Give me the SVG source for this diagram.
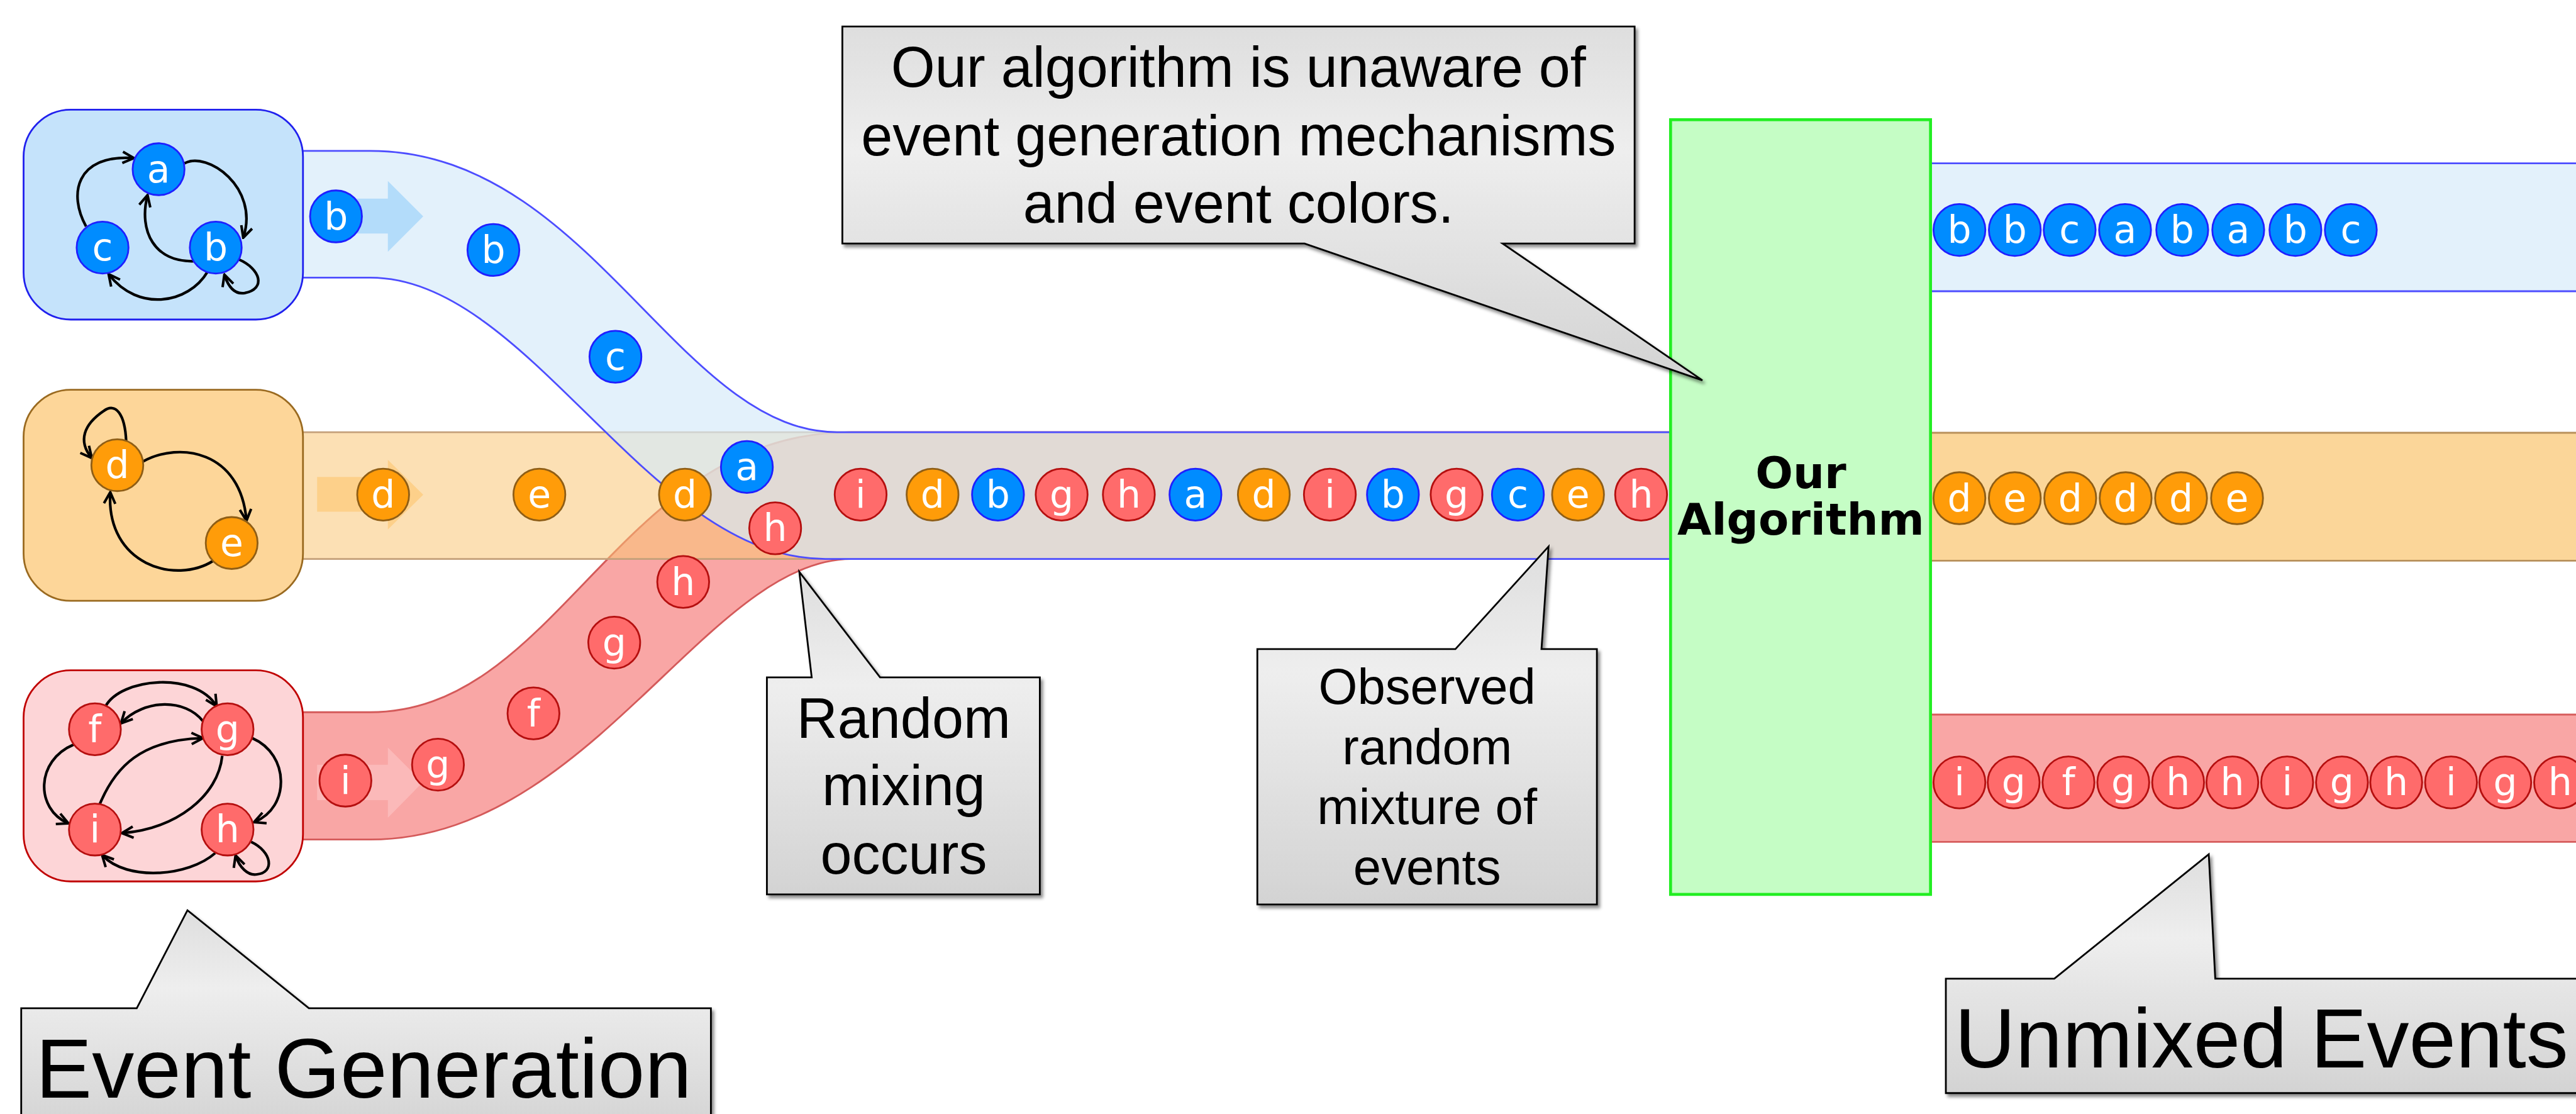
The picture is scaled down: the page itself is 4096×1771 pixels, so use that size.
<svg xmlns="http://www.w3.org/2000/svg" width="4096" height="1771" viewBox="0 0 4096 1771">
<defs>
<style>
.nb circle{fill:#008cff;stroke:#1f1fff;stroke-width:3}
.no circle{fill:#ff9c09;stroke:#8f5e16;stroke-width:3}
.nr circle{fill:#ff6b6b;stroke:#b50f0f;stroke-width:3}
.node text{fill:#fff;font-family:"DejaVu Sans",Verdana,sans-serif;font-size:64px;text-anchor:middle}
.e{fill:none;stroke:#000;stroke-width:4.5;marker-end:url(#ah)}
.co{fill:url(#cg);stroke:#000;stroke-width:3;filter:url(#sh)}
.ct{font-family:"Liberation Sans",Arial,sans-serif;fill:#000;text-anchor:middle}
</style>
<marker id="ah" viewBox="0 0 10 10" refX="8.5" refY="5" markerWidth="24" markerHeight="24" markerUnits="userSpaceOnUse" orient="auto">
<path d="M1,1 L9,5 L1,9" fill="none" stroke="#000" stroke-width="1.8"/>
</marker>
<linearGradient id="cg" x1="0" y1="0" x2="0" y2="1">
<stop offset="0" stop-color="#dedede"/>
<stop offset="0.35" stop-color="#eeeeee"/>
<stop offset="1" stop-color="#d3d3d3"/>
</linearGradient>
<filter id="sh" x="-5%" y="-5%" width="115%" height="120%">
<feDropShadow dx="4" dy="5" stdDeviation="3" flood-color="#000" flood-opacity="0.45"/>
</filter>
</defs>
<g transform="scale(0.93730)">
<rect x="0" y="0" width="4370" height="1890" fill="#fff"/>

<g id="streams">
<path d="M514,1208 H628 C950,1208 1050,733 1444,733 H2834 V948 H1444 C1200,948 1000,1424 628,1424 H514 Z" fill="#f9a6a5"/>
<path d="M514,1208 H628 C950,1208 1050,733 1444,733 H2834 M2834,948 H1444 C1200,948 1000,1424 628,1424 H514" fill="none" stroke="#d45a5a" stroke-width="3"/>
<rect x="514" y="733" width="2320" height="215" fill="rgb(250,199,119)" fill-opacity="0.55"/>
<path d="M514,733 H2834 M514,948 H2834" stroke="#c4a07a" stroke-width="3"/>
<path d="M514,256 H628 C1000,256 1150,733 1420,733 H2834 V948 H1400 C1100,948 900,471 628,471 H514 Z" fill="rgb(213,234,249)" fill-opacity="0.67"/>
<path d="M514,256 H628 C1000,256 1150,733 1420,733 H2834 M2834,948 H1400 C1100,948 900,471 628,471 H514" fill="none" stroke="#4d4dff" stroke-width="3"/>
<rect x="3275" y="277" width="1100" height="217" fill="#e3f1fb"/>
<path d="M3275,277 H4375 M3275,494 H4375" stroke="#4d4dff" stroke-width="3"/>
<rect x="3275" y="734" width="1100" height="217" fill="#fbd699"/>
<path d="M3275,734 H4375 M3275,951 H4375" stroke="#b8905a" stroke-width="3"/>
<rect x="3275" y="1212" width="1100" height="216" fill="#f9a6a5"/>
<path d="M3275,1212 H4375 M3275,1428 H4375" stroke="#d65c5c" stroke-width="3"/>
<polygon points="538,337 658,337 658,307 718,367 658,427 658,396 538,396" fill="#b3dcfa"/>
<polygon points="538,809 658,809 658,780 718,839 658,898 658,868 538,868" fill="#fdd08a"/>
<polygon points="538,1297 658,1297 658,1268 717,1327 658,1387 658,1357 538,1357" fill="#fbb9b9"/>
</g>

<g id="box-blue"><rect x="40" y="186" width="474" height="356" rx="80" ry="80" fill="#c5e3fb" stroke="#2020ee" stroke-width="3"/></g>
<g id="box-orange"><rect x="40" y="661" width="474" height="358" rx="80" ry="80" fill="#fdd699" stroke="#9a6a20" stroke-width="3"/></g>
<g id="box-red"><rect x="40" y="1137" width="474" height="358" rx="80" ry="80" fill="#fdd5d7" stroke="#c00000" stroke-width="3"/></g>

<g id="connectors">
<path class="e" d="M146,384 C116,330 128,262 226,268"/>
<path class="e" d="M313,277 C352,256 440,318 413,402"/>
<path class="e" d="M329,443 C262,445 235,392 250,332"/>
<path class="e" d="M352,461 C320,515 235,530 185,466"/>
<path class="e" d="M405,440 C442,456 452,490 415,497 C396,500 386,482 381,467"/>
<path class="e" d="M214,748 C212,702 196,682 176,697 C142,720 132,748 155,776"/>
<path class="e" d="M242,783 C305,748 408,765 418,882"/>
<path class="e" d="M362,951 C298,992 180,958 187,836"/>
<path class="e" d="M179,1198 C205,1150 330,1138 367,1197"/>
<path class="e" d="M344,1223 C315,1185 245,1185 206,1226"/>
<path class="e" d="M125,1263 C60,1290 60,1372 115,1396"/>
<path class="e" d="M168,1367 C195,1300 240,1255 343,1252"/>
<path class="e" d="M377,1282 C370,1350 300,1405 208,1413"/>
<path class="e" d="M428,1252 C492,1280 492,1370 432,1394"/>
<path class="e" d="M365,1447 C320,1487 215,1495 174,1451"/>
<path class="e" d="M426,1428 C462,1445 466,1480 436,1483 C420,1486 406,1470 400,1452"/>
</g>

<g id="nodes-sources">
<g id="src-a" class="node nb"><circle cx="269" cy="287" r="44"/><text x="269" y="309">a</text></g>
<g id="src-c" class="node nb"><circle cx="174" cy="420" r="44"/><text x="174" y="442">c</text></g>
<g id="src-b" class="node nb"><circle cx="366" cy="420" r="44"/><text x="366" y="442">b</text></g>
<g id="src-d" class="node no"><circle cx="199" cy="789" r="44"/><text x="199" y="811">d</text></g>
<g id="src-e" class="node no"><circle cx="393" cy="921" r="44"/><text x="393" y="943">e</text></g>
<g id="src-f" class="node nr"><circle cx="161" cy="1237" r="44"/><text x="161" y="1259">f</text></g>
<g id="src-g" class="node nr"><circle cx="386" cy="1237" r="44"/><text x="386" y="1259">g</text></g>
<g id="src-i" class="node nr"><circle cx="161" cy="1407" r="44"/><text x="161" y="1429">i</text></g>
<g id="src-h" class="node nr"><circle cx="386" cy="1407" r="44"/><text x="386" y="1429">h</text></g>
</g>

<g id="nodes-streams">
<g id="sb1" class="node nb"><circle cx="570" cy="367" r="44"/><text x="570" y="389">b</text></g>
<g id="sb2" class="node nb"><circle cx="837" cy="424" r="44"/><text x="837" y="446">b</text></g>
<g id="sb3" class="node nb"><circle cx="1044" cy="605" r="44"/><text x="1044" y="627">c</text></g>
<g id="sb4" class="node nb"><circle cx="1267" cy="792" r="44"/><text x="1267" y="814">a</text></g>
<g id="so1" class="node no"><circle cx="650" cy="839" r="44"/><text x="650" y="861">d</text></g>
<g id="so2" class="node no"><circle cx="915" cy="839" r="44"/><text x="915" y="861">e</text></g>
<g id="so3" class="node no"><circle cx="1162" cy="839" r="44"/><text x="1162" y="861">d</text></g>
<g id="sr1" class="node nr"><circle cx="586" cy="1324" r="44"/><text x="586" y="1346">i</text></g>
<g id="sr2" class="node nr"><circle cx="743" cy="1297" r="44"/><text x="743" y="1319">g</text></g>
<g id="sr3" class="node nr"><circle cx="905" cy="1210" r="44"/><text x="905" y="1232">f</text></g>
<g id="sr4" class="node nr"><circle cx="1042" cy="1090" r="44"/><text x="1042" y="1112">g</text></g>
<g id="sr5" class="node nr"><circle cx="1159" cy="987" r="44"/><text x="1159" y="1009">h</text></g>
<g id="sr6" class="node nr"><circle cx="1315" cy="896" r="44"/><text x="1315" y="918">h</text></g>
</g>

<g id="nodes-mixed">
<g id="m1" class="node nr"><circle cx="1460" cy="839" r="44"/><text x="1460" y="861">i</text></g>
<g id="m2" class="node no"><circle cx="1582" cy="839" r="44"/><text x="1582" y="861">d</text></g>
<g id="m3" class="node nb"><circle cx="1693" cy="839" r="44"/><text x="1693" y="861">b</text></g>
<g id="m4" class="node nr"><circle cx="1801" cy="839" r="44"/><text x="1801" y="861">g</text></g>
<g id="m5" class="node nr"><circle cx="1915" cy="839" r="44"/><text x="1915" y="861">h</text></g>
<g id="m6" class="node nb"><circle cx="2028" cy="839" r="44"/><text x="2028" y="861">a</text></g>
<g id="m7" class="node no"><circle cx="2144" cy="839" r="44"/><text x="2144" y="861">d</text></g>
<g id="m8" class="node nr"><circle cx="2256" cy="839" r="44"/><text x="2256" y="861">i</text></g>
<g id="m9" class="node nb"><circle cx="2363" cy="839" r="44"/><text x="2363" y="861">b</text></g>
<g id="m10" class="node nr"><circle cx="2471" cy="839" r="44"/><text x="2471" y="861">g</text></g>
<g id="m11" class="node nb"><circle cx="2575" cy="839" r="44"/><text x="2575" y="861">c</text></g>
<g id="m12" class="node no"><circle cx="2677" cy="839" r="44"/><text x="2677" y="861">e</text></g>
<g id="m13" class="node nr"><circle cx="2784" cy="839" r="44"/><text x="2784" y="861">h</text></g>
</g>

<g id="algorithm">
<rect x="2834" y="203" width="441" height="1314" fill="#c5fdc5" stroke="#22ee22" stroke-width="5"/>
<text x="3055" y="828" font-family="'DejaVu Sans',Verdana,sans-serif" font-weight="bold" font-size="75" text-anchor="middle">Our</text>
<text x="3055" y="907" font-family="'DejaVu Sans',Verdana,sans-serif" font-weight="bold" font-size="75" text-anchor="middle">Algorithm</text>
</g>

<g id="nodes-out-blue">
<g class="node nb"><circle cx="3324" cy="390" r="44"/><text x="3324" y="412">b</text></g>
<g class="node nb"><circle cx="3418" cy="390" r="44"/><text x="3418" y="412">b</text></g>
<g class="node nb"><circle cx="3511" cy="390" r="44"/><text x="3511" y="412">c</text></g>
<g class="node nb"><circle cx="3605" cy="390" r="44"/><text x="3605" y="412">a</text></g>
<g class="node nb"><circle cx="3702" cy="390" r="44"/><text x="3702" y="412">b</text></g>
<g class="node nb"><circle cx="3797" cy="390" r="44"/><text x="3797" y="412">a</text></g>
<g class="node nb"><circle cx="3894" cy="390" r="44"/><text x="3894" y="412">b</text></g>
<g class="node nb"><circle cx="3988" cy="390" r="44"/><text x="3988" y="412">c</text></g>
</g>
<g id="nodes-out-orange">
<g class="node no"><circle cx="3324" cy="845" r="44"/><text x="3324" y="867">d</text></g>
<g class="node no"><circle cx="3418" cy="845" r="44"/><text x="3418" y="867">e</text></g>
<g class="node no"><circle cx="3512" cy="845" r="44"/><text x="3512" y="867">d</text></g>
<g class="node no"><circle cx="3606" cy="845" r="44"/><text x="3606" y="867">d</text></g>
<g class="node no"><circle cx="3700" cy="845" r="44"/><text x="3700" y="867">d</text></g>
<g class="node no"><circle cx="3795" cy="845" r="44"/><text x="3795" y="867">e</text></g>
</g>
<g id="nodes-out-red">
<g class="node nr"><circle cx="3324" cy="1327" r="44"/><text x="3324" y="1349">i</text></g>
<g class="node nr"><circle cx="3416" cy="1327" r="44"/><text x="3416" y="1349">g</text></g>
<g class="node nr"><circle cx="3509" cy="1327" r="44"/><text x="3509" y="1349">f</text></g>
<g class="node nr"><circle cx="3602" cy="1327" r="44"/><text x="3602" y="1349">g</text></g>
<g class="node nr"><circle cx="3695" cy="1327" r="44"/><text x="3695" y="1349">h</text></g>
<g class="node nr"><circle cx="3787" cy="1327" r="44"/><text x="3787" y="1349">h</text></g>
<g class="node nr"><circle cx="3880" cy="1327" r="44"/><text x="3880" y="1349">i</text></g>
<g class="node nr"><circle cx="3973" cy="1327" r="44"/><text x="3973" y="1349">g</text></g>
<g class="node nr"><circle cx="4065" cy="1327" r="44"/><text x="4065" y="1349">h</text></g>
<g class="node nr"><circle cx="4158" cy="1327" r="44"/><text x="4158" y="1349">i</text></g>
<g class="node nr"><circle cx="4250" cy="1327" r="44"/><text x="4250" y="1349">g</text></g>
<g class="node nr"><circle cx="4343" cy="1327" r="44"/><text x="4343" y="1349">h</text></g>
</g>

<g id="callout-unaware">
<path class="co" d="M1429,45 H2773 V413 H2549 L2888,645 L2213,413 H1429 Z"/>
<text class="ct" x="2101" y="147" font-size="96">Our algorithm is unaware of</text>
<text class="ct" x="2101" y="263" font-size="96">event generation mechanisms</text>
<text class="ct" x="2101" y="378" font-size="96">and event colors.</text>
</g>
<g id="callout-random">
<path class="co" d="M1301,1149 H1377 L1356,970 L1493,1149 H1764 V1517 H1301 Z"/>
<text class="ct" x="1533" y="1252" font-size="96">Random</text>
<text class="ct" x="1533" y="1366" font-size="96">mixing</text>
<text class="ct" x="1533" y="1482" font-size="96">occurs</text>
</g>
<g id="callout-observed">
<path class="co" d="M2133,1101 H2469 L2627,927 L2615,1101 H2709 V1534 H2133 Z"/>
<text class="ct" x="2421" y="1194" font-size="85">Observed</text>
<text class="ct" x="2421" y="1296" font-size="85">random</text>
<text class="ct" x="2421" y="1398" font-size="85">mixture of</text>
<text class="ct" x="2421" y="1500" font-size="85">events</text>
</g>
<g id="callout-generation">
<path class="co" d="M36,1710 H232 L318,1544 L524,1710 H1206 V1920 H36 Z"/>
<text class="ct" x="617" y="1862" font-size="143">Event Generation</text>
</g>
<g id="callout-unmixed">
<path class="co" d="M3301,1660 H3485 L3747,1449 L3758,1660 H4400 V1854 H3301 Z"/>
<text class="ct" x="3316" y="1811" font-size="143" text-anchor="start" style="text-anchor:start">Unmixed Events</text>
</g>
</g>
</svg>
